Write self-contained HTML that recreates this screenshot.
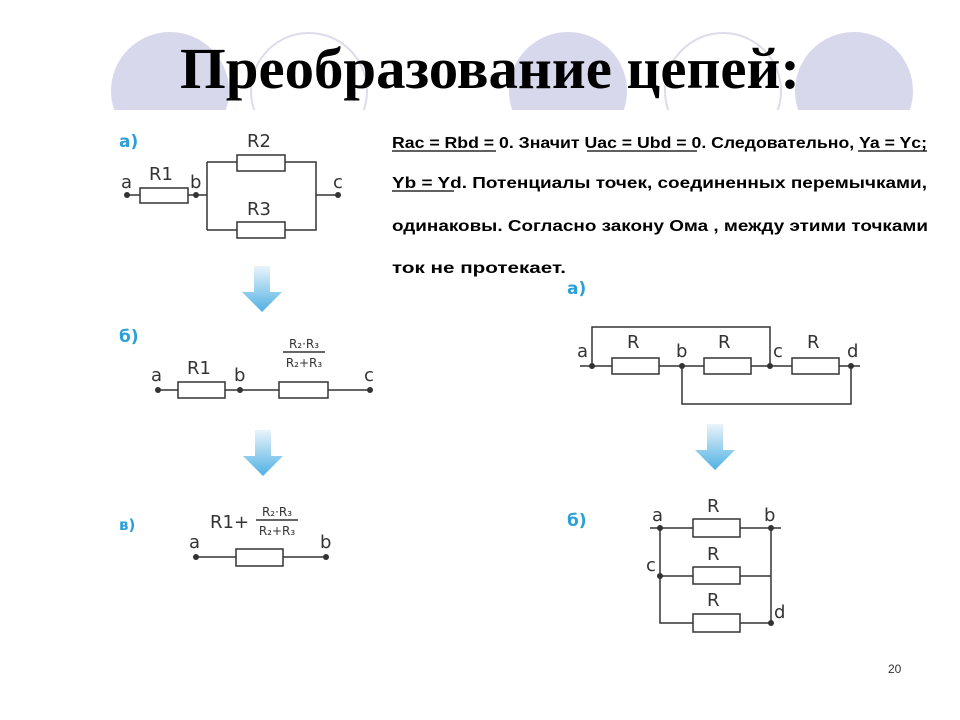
<!DOCTYPE html>
<html><head><meta charset="utf-8"><style>
html,body{margin:0;padding:0;background:#fff;}
svg{display:block;}
.t{font-family:"Liberation Sans","DejaVu Sans",sans-serif;font-weight:bold;font-size:16px;fill:#000;}
.l{font-family:"DejaVu Sans","Liberation Sans",sans-serif;font-size:18px;fill:#333;}
.bl{font-family:"DejaVu Sans","Liberation Sans",sans-serif;font-size:17px;fill:#2a9fd8;font-weight:bold;}
.f{font-family:"DejaVu Sans","Liberation Sans",sans-serif;font-size:12px;fill:#333;}
</style></head><body>
<svg width="960" height="720" viewBox="0 0 960 720" xmlns="http://www.w3.org/2000/svg">
<defs>
<clipPath id="cb"><rect x="0" y="0" width="960" height="110"/></clipPath>
<linearGradient id="ag" x1="0" y1="0" x2="0" y2="1">
<stop offset="0" stop-color="#eaf4fb"/><stop offset="1" stop-color="#4fb0e3"/></linearGradient>
<g id="arr"><path d="M-8,0 H8 V26 H20 L0,46 L-20,26 H-8 Z" fill="url(#ag)"/></g>
</defs>
<g clip-path="url(#cb)">
<circle cx="170" cy="91" r="59" fill="#d8d8ec"/>
<circle cx="309" cy="91" r="58" fill="none" stroke="#dcdcec" stroke-width="2"/>
<circle cx="568" cy="91" r="59" fill="#d8d8ec"/>
<circle cx="723" cy="91" r="58" fill="none" stroke="#dcdcec" stroke-width="2"/>
<circle cx="854" cy="91" r="59" fill="#d8d8ec"/>
</g>
<text x="490" y="88" text-anchor="middle" font-family="Liberation Serif,serif" font-weight="bold" font-size="58" textLength="620" lengthAdjust="spacingAndGlyphs">Преобразование цепей:</text>

<g stroke="#333" stroke-width="1.5" fill="#fff">
<path d="M127,195 H140 M188,195 H207 M207,162 V230 M207,162 H237 M285,162 H316 V230 H285 M237,230 H207 M316,195 H338" fill="none"/>
<rect x="140" y="188" width="48" height="15"/>
<rect x="237" y="155" width="48" height="16"/>
<rect x="237" y="222" width="48" height="16"/>
<path d="M158,390 H178 M225,390 H279 M328,390 H370" fill="none"/>
<rect x="178" y="382" width="47" height="16"/>
<rect x="279" y="382" width="49" height="16"/>
<line x1="283" y1="352" x2="325" y2="352"/>
<path d="M196,557 H236 M283,557 H326" fill="none"/>
<rect x="236" y="549" width="47" height="17"/>
<line x1="256" y1="520" x2="298" y2="520"/>
<path d="M580,366 H612 M659,366 H704 M751,366 H792 M839,366 H860 M592,366 V327 H770 V366 M682,366 V404 H851 V366" fill="none"/>
<rect x="612" y="358" width="47" height="16"/>
<rect x="704" y="358" width="47" height="16"/>
<rect x="792" y="358" width="47" height="16"/>
<path d="M650,528 H693 M740,528 H781 M660,528 V623 H693 M740,623 H771 V528 M660,576 H693 M740,576 H771" fill="none"/>
<rect x="693" y="519" width="47" height="18"/>
<rect x="693" y="567" width="47" height="17"/>
<rect x="693" y="614" width="47" height="18"/>
</g>
<g fill="#333">
<circle cx="127" cy="195" r="3"/><circle cx="196" cy="195" r="3"/><circle cx="338" cy="195" r="3"/>
<circle cx="158" cy="390" r="3"/><circle cx="240" cy="390" r="3"/><circle cx="370" cy="390" r="3"/>
<circle cx="196" cy="557" r="3"/><circle cx="326" cy="557" r="3"/>
<circle cx="592" cy="366" r="3"/><circle cx="682" cy="366" r="3"/><circle cx="770" cy="366" r="3"/><circle cx="851" cy="366" r="3"/>
<circle cx="660" cy="528" r="3"/><circle cx="771" cy="528" r="3"/><circle cx="660" cy="576" r="3"/><circle cx="771" cy="623" r="3"/>
</g>
<text class="bl" x="119" y="147">а)</text>
<text class="l" x="121" y="188">a</text><text class="l" x="149" y="180">R1</text><text class="l" x="190" y="188">b</text><text class="l" x="333" y="188">c</text>
<text class="l" x="247" y="147">R2</text><text class="l" x="247" y="215">R3</text>
<use href="#arr" x="262" y="266"/>
<text class="bl" x="119" y="342">б)</text>
<text class="l" x="151" y="381">a</text><text class="l" x="187" y="374">R1</text><text class="l" x="234" y="381">b</text><text class="l" x="364" y="381">c</text>
<text class="f" x="304" y="348" text-anchor="middle">R₂·R₃</text><text class="f" x="304" y="367" text-anchor="middle">R₂+R₃</text>
<use href="#arr" x="263" y="430"/>
<text class="bl" x="119" y="530" style="font-size:15px">в)</text>
<text class="l" x="210" y="528">R1+</text>
<text class="f" x="277" y="516" text-anchor="middle">R₂·R₃</text><text class="f" x="277" y="535" text-anchor="middle">R₂+R₃</text>
<text class="l" x="189" y="548">a</text><text class="l" x="320" y="548">b</text>

<text class="t" x="392" y="148" textLength="535" lengthAdjust="spacingAndGlyphs">Rac = Rbd = 0.   Значит Uac = Ubd = 0. Следовательно, Ya = Yc;</text>
<g stroke="#000" stroke-width="1.3">
<line x1="392" y1="151" x2="496" y2="151"/><line x1="587" y1="151" x2="697" y2="151"/><line x1="858" y1="151" x2="927" y2="151"/>
<line x1="392" y1="191" x2="454" y2="191"/>
</g>
<text class="t" x="392" y="188" textLength="535" lengthAdjust="spacingAndGlyphs">Yb = Yd.   Потенциалы точек, соединенных перемычками,</text>
<text class="t" x="392" y="231" textLength="536" lengthAdjust="spacingAndGlyphs">одинаковы.  Согласно закону Ома , между этими точками</text>
<text class="t" x="392" y="273" textLength="174" lengthAdjust="spacingAndGlyphs">ток  не   протекает.</text>

<text class="bl" x="567" y="294">а)</text>
<text class="l" x="577" y="357">a</text><text class="l" x="627" y="348">R</text><text class="l" x="676" y="357">b</text><text class="l" x="718" y="348">R</text><text class="l" x="773" y="357">c</text><text class="l" x="807" y="348">R</text><text class="l" x="847" y="357">d</text>
<use href="#arr" x="715" y="424"/>
<text class="bl" x="567" y="526">б)</text>
<text class="l" x="652" y="521">a</text><text class="l" x="764" y="521">b</text><text class="l" x="707" y="512">R</text><text class="l" x="707" y="560">R</text><text class="l" x="707" y="606">R</text>
<text class="l" x="646" y="571">c</text><text class="l" x="774" y="618">d</text>
<text x="888" y="673" font-family="Liberation Sans,sans-serif" font-size="12" fill="#333">20</text>
</svg>
</body></html>
